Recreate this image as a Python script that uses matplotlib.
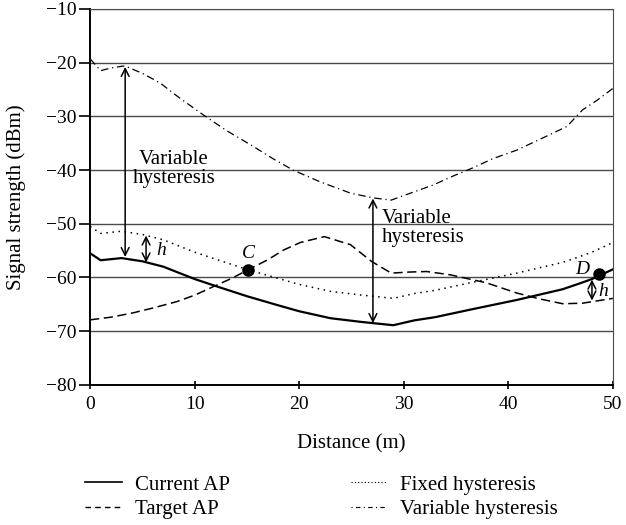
import matplotlib.pyplot as plt
from matplotlib.lines import Line2D

plt.rcParams['font.family'] = ['Liberation Serif', 'DejaVu Serif']

# Current AP signal strength along the walk
cur_x = [0, 1, 3, 5, 7, 10, 12, 15, 18, 20, 23, 26, 27, 29, 31, 33, 36.6, 40.8, 43, 45.2, 47, 48, 49, 50]
cur_y = [-55.5, -56.8, -56.4, -57.0, -58.0, -60.3, -61.6, -63.5, -65.2, -66.3, -67.6, -68.3, -68.5, -68.9, -68.0, -67.4, -65.9, -64.2, -63.2, -62.2, -61.0, -60.3, -59.4, -58.5]

# Target AP signal strength
tgt_x = [0, 2, 4.1, 6, 8.3, 10, 11.8, 13.5, 15.1, 17, 18.5, 20.1, 22.4, 24.9, 26.9, 28.8, 30.5, 32.2, 34.4, 37.9, 40.8, 43, 45.2, 47.1, 50]
tgt_y = [-67.9, -67.4, -66.6, -65.7, -64.5, -63.3, -61.7, -60.2, -58.6, -56.7, -54.9, -53.5, -52.4, -53.9, -57.0, -59.2, -59.0, -58.9, -59.5, -61.0, -62.9, -64.0, -64.9, -64.8, -63.9]

# Fixed hysteresis threshold
fix_x = [0, 1, 3, 5, 7, 10, 12, 15, 18, 20, 23, 26, 27, 29, 31, 33, 36.6, 40.8, 43, 45.2, 47, 48, 49, 50]
fix_y = [-50.5, -51.8, -51.4, -52.0, -53.0, -55.3, -56.6, -58.5, -60.2, -61.3, -62.6, -63.3, -63.5, -63.9, -63.0, -62.4, -60.9, -59.2, -58.2, -57.2, -56.0, -55.3, -54.4, -53.5]

# Variable hysteresis threshold
var_x = [0, 1, 2, 3.3, 5, 6.7, 8.5, 10.8, 13, 15.6, 17.5, 19.4, 22, 24.9, 27.1, 28.8, 30.5, 32.8, 34.5, 36.6, 38.5, 40.8, 43, 45.6, 47.1, 48.5, 50]
var_y = [-19.3, -21.5, -21.0, -20.6, -22.0, -23.8, -26.5, -29.7, -32.6, -35.6, -37.9, -40.0, -42.2, -44.3, -45.2, -45.6, -44.4, -42.8, -41.3, -39.6, -37.9, -36.3, -34.3, -31.9, -28.8, -27.0, -24.8]

# handover points
pts = {'C': (15.1, -58.6), 'D': (48.7, -59.3)}

fig = plt.figure(figsize=(6.26, 5.25), dpi=100)
ax = fig.add_axes([0.144, 0.267, 0.835, 0.716])

for yv in range(-70, -9, 10):
    ax.axhline(yv, color='#4a4a4a', lw=1.0, zorder=1)

ax.plot(cur_x, cur_y, color='black', lw=1.6, ls='-', zorder=3)
ax.plot(tgt_x, tgt_y, color='black', lw=1.1, ls=(0, (6, 3)), zorder=3)
ax.plot(fix_x, fix_y, color='black', lw=1.1, ls=(0, (1, 3)), zorder=3)
ax.plot(var_x, var_y, color='black', lw=0.9, ls=(0, (6, 3, 1, 3)), zorder=3)

for name, (px, py) in pts.items():
    ax.plot(px, py, 'o', color='black', ms=8, zorder=4)
ax.text(15.1, -55.5, 'C', style='italic', fontsize=14, ha='center', va='center')
ax.text(47.1, -58.6, 'D', style='italic', fontsize=14, ha='center', va='center')

arrow = dict(arrowstyle='<->', color='black', lw=1.1, shrinkA=0, shrinkB=0,
             mutation_scale=14)
ax.annotate('', xy=(3.35, -20.8), xytext=(3.35, -56.2), arrowprops=arrow)
ax.annotate('', xy=(27.05, -45.3), xytext=(27.05, -68.5), arrowprops=arrow)
ax.annotate('', xy=(5.35, -52.2), xytext=(5.35, -57.2), arrowprops=arrow)
ax.annotate('', xy=(48.0, -60.4), xytext=(48.0, -64.3), arrowprops=arrow)

ax.text(8.0, -39.8, 'Variable\nhysteresis', ha='center', va='center', fontsize=15, linespacing=1.0)
ax.text(27.9, -50.8, 'Variable\nhysteresis', ha='left', va='center', fontsize=15, linespacing=1.0)
ax.text(6.3, -55.0, 'h', style='italic', fontsize=14, ha='left', va='center')
ax.text(48.6, -62.6, 'h', style='italic', fontsize=14, ha='left', va='center')

ax.set_xlim(0, 50)
ax.set_ylim(-80, -10)
ax.set_xticks(range(0, 51, 10))
ax.set_yticks(range(-80, -9, 10))
ax.set_yticklabels(['\u2212%d' % abs(v) for v in range(-80, -9, 10)])
ax.tick_params(axis='y', labelsize=14, direction='out', length=8, width=1.2, pad=2)
ax.tick_params(axis='x', labelsize=14, direction='inout', length=6, width=1.2, pad=5)
for side in ['left', 'bottom']:
    ax.spines[side].set_linewidth(1.4)
ax.spines['right'].set_color('#4a4a4a')
ax.spines['top'].set_color('#4a4a4a')
ax.set_xlabel('Distance (m)', fontsize=15, labelpad=15)
ax.set_ylabel('Signal strength (dBm)', fontsize=15)
ax.yaxis.set_label_coords(-0.122, 0.5)

handles = [
    Line2D([], [], color='black', lw=1.2, ls='-'),
    Line2D([], [], color='black', lw=1.0, ls=(0, (4, 3))),
    Line2D([], [], color='black', lw=0.8, ls=(0, (1, 2))),
    Line2D([], [], color='black', lw=0.8, ls=(0, (1, 3, 4, 3))),
]
labels = ['Current AP', 'Target AP', 'Fixed hysteresis', 'Variable hysteresis']
fig.legend(handles, labels, loc='upper left', bbox_to_anchor=(0.136, 0.095), ncol=2,
           frameon=False, fontsize=15, handlelength=1.75, columnspacing=5.8,
           labelspacing=0.22, handletextpad=0.63, borderpad=0, borderaxespad=0)

fig.savefig('out.png', dpi=100)
